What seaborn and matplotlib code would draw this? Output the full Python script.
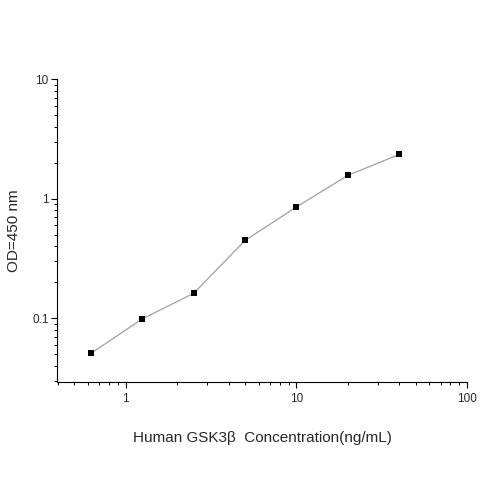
import pandas as pd
import matplotlib
matplotlib.use("Agg")
import matplotlib.pyplot as plt
import seaborn as sns
from matplotlib.ticker import LogLocator, NullFormatter, FuncFormatter

# === DATOS ===
concentracion = [0.625, 1.25, 2.5, 5, 10, 20, 40]
od_450 = [0.051, 0.099, 0.162, 0.448, 0.855, 1.57, 2.35]

df = pd.DataFrame({"conc": concentracion, "od": od_450})

# === ESTILO ===
sns.set_style("ticks")
plt.rcParams["font.family"] = ["Liberation Sans", "DejaVu Sans"]

fig = plt.figure(figsize=(5, 5), dpi=100)
ax = fig.add_axes([0.114, 0.2366, 0.82, 0.6048])

sns.lineplot(data=df, x="conc", y="od", ax=ax, color="#a0a0a0", linewidth=0.9,
             marker="s", markersize=4.5, markerfacecolor="black",
             markeredgecolor="black", markeredgewidth=0)

ax.set_xscale("log")
ax.set_yscale("log")
ax.set_xlim(0.395, 100)
ax.set_ylim(0.0295, 10)

fmt = FuncFormatter(lambda v, p: f"{v:g}")
ax.xaxis.set_major_locator(LogLocator(base=10))
ax.yaxis.set_major_locator(LogLocator(base=10))
ax.xaxis.set_major_formatter(fmt)
ax.yaxis.set_major_formatter(fmt)
ax.xaxis.set_minor_locator(LogLocator(base=10, subs=range(2, 10)))
ax.yaxis.set_minor_locator(LogLocator(base=10, subs=range(2, 10)))
ax.xaxis.set_minor_formatter(NullFormatter())
ax.yaxis.set_minor_formatter(NullFormatter())

ax.tick_params(which="major", direction="out", length=4, width=0.8, labelsize=8.5, color="black")
ax.tick_params(which="minor", direction="out", length=2.2, width=0.7, color="black")
ax.tick_params(axis="x", pad=4)
ax.tick_params(axis="y", pad=2)

sns.despine(ax=ax)
for s in ["left", "bottom"]:
    ax.spines[s].set_color("black")
    ax.spines[s].set_linewidth(0.8)

# === ETIQUETAS ===
ax.set_xlabel("Human GSK3β  Concentration(ng/mL)", fontsize=11)
ax.set_ylabel("OD=450 nm", fontsize=11)
ax.xaxis.set_label_coords(0.5, -0.186)
ax.yaxis.set_label_coords(-0.105, 0.5)
ax.xaxis.label.set_va("center")
ax.yaxis.label.set_va("center")

fig.savefig("out.png", dpi=100)
